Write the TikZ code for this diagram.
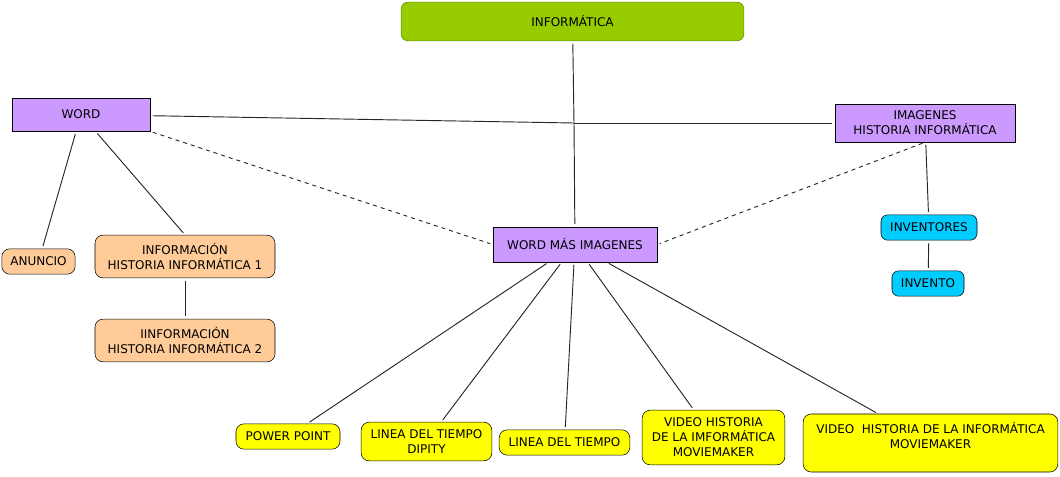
\documentclass[tikz,border=0pt]{standalone}
\usepackage{fontspec}
\setmainfont{DejaVu Sans}
\usetikzlibrary{positioning}
\definecolor{topicgreen}{HTML}{99CC00}
\definecolor{topicedge}{HTML}{5E8C00}
\definecolor{conceptpurple}{HTML}{CC99FF}
\definecolor{noteorange}{HTML}{FFCC99}
\definecolor{personcyan}{HTML}{00CCFF}
\definecolor{mediayellow}{HTML}{FFFF00}
\tikzstyle{topic} = [rectangle, rounded corners=5pt, draw=topicedge, fill=topicgreen, inner sep=0pt, align=center]
\tikzstyle{concept} = [rectangle, draw=black, fill=conceptpurple, inner sep=0pt, align=center]
\tikzstyle{note} = [rectangle, rounded corners=6pt, draw=black, fill=noteorange, inner sep=0pt, align=center]
\tikzstyle{person} = [rectangle, rounded corners=5pt, draw=black, fill=personcyan, inner sep=0pt, align=center]
\tikzstyle{media} = [rectangle, rounded corners=6pt, draw=black, fill=mediayellow, inner sep=0pt, align=center]
\tikzstyle{link} = [line width=0.7pt, black!85, shorten <=2pt, shorten >=2pt]
\tikzstyle{seealso} = [link, dash pattern=on 3pt off 3pt]

\begin{document}
\begin{tikzpicture}[x=0.75pt, y=-0.75pt, every node/.style={font=\fontsize{9}{11.3}\selectfont}]
\useasboundingbox (0,0) rectangle (1060,476);

\node (info) [topic, minimum width=257pt, minimum height=29pt] at (572.5,21.5) {INFORMÁTICA};
\node (word) [concept, minimum width=103.5pt, minimum height=25pt] at (81,114.5) {WORD};
\node (imgs) [concept, minimum width=135pt, minimum height=28.5pt] at (925,123) {IMAGENES\\HISTORIA INFORMÁTICA};
\node (wmi) [concept, minimum width=123pt, minimum height=26pt] at (575,244.5) {WORD MÁS IMAGENES};
\coordinate (jn) at (574,123);

\node (anuncio) [note, minimum width=55pt, minimum height=19pt] at (38.5,261.5) {ANUNCIO};
\node (hist1) [note, minimum width=135pt, minimum height=32pt] at (185,256.5) {INFORMACIÓN\\HISTORIA INFORMÁTICA 1};
\node (hist2) [note, minimum width=135pt, minimum height=32pt] at (185,340.5) {IINFORMACIÓN\\HISTORIA INFORMÁTICA 2};

\node (inventores) [person, minimum width=72pt, minimum height=19pt] at (929,227.5) {INVENTORES};
\node (invento) [person, minimum width=54pt, minimum height=19pt] at (928,283.5) {INVENTO};

\node (ppt) [media, minimum width=78pt, minimum height=19pt] at (288,436.5) {POWER POINT};
\node (dipity) [media, minimum width=98pt, minimum height=29pt] at (426.5,441.5) {LINEA DEL TIEMPO\\DIPITY};
\node (linea) [media, minimum width=98pt, minimum height=19pt] at (564.5,442.5) {LINEA DEL TIEMPO};
\node (video1) [media, minimum width=107pt, minimum height=41pt] at (713.5,437.5) {VIDEO HISTORIA\\DE LA IMFORMÁTICA\\MOVIEMAKER};
\node (video2) [media, minimum width=191pt, minimum height=43.5pt, text depth=12pt] at (930.5,443) {VIDEO~ HISTORIA DE LA INFORMÁTICA\\MOVIEMAKER};

% main branches
\draw [link, shorten >=0pt] (info) -- (jn);
\draw [link, shorten <=0pt] (jn) -- (wmi);
\draw [link, shorten >=0pt] (word) -- (jn);
\draw [link, shorten <=0pt] (jn) -- (imgs);

\draw [link] (word) -- (anuncio);
\draw [link] (word) -- (hist1.north);
\draw [link] (hist1) -- (hist2);
\draw [seealso] (word.south east) -- (wmi.west);
\draw [seealso] (imgs.south) -- (wmi.east);

\draw [link] (imgs) -- (inventores);
\draw [link] (inventores) -- (invento);

\draw [link] (wmi) -- (ppt);
\draw [link] (wmi) -- (dipity);
\draw [link] (wmi) -- (linea);
\draw [link] (wmi) -- (video1);
\draw [link] (wmi) -- (video2);

\end{tikzpicture}
\end{document}
